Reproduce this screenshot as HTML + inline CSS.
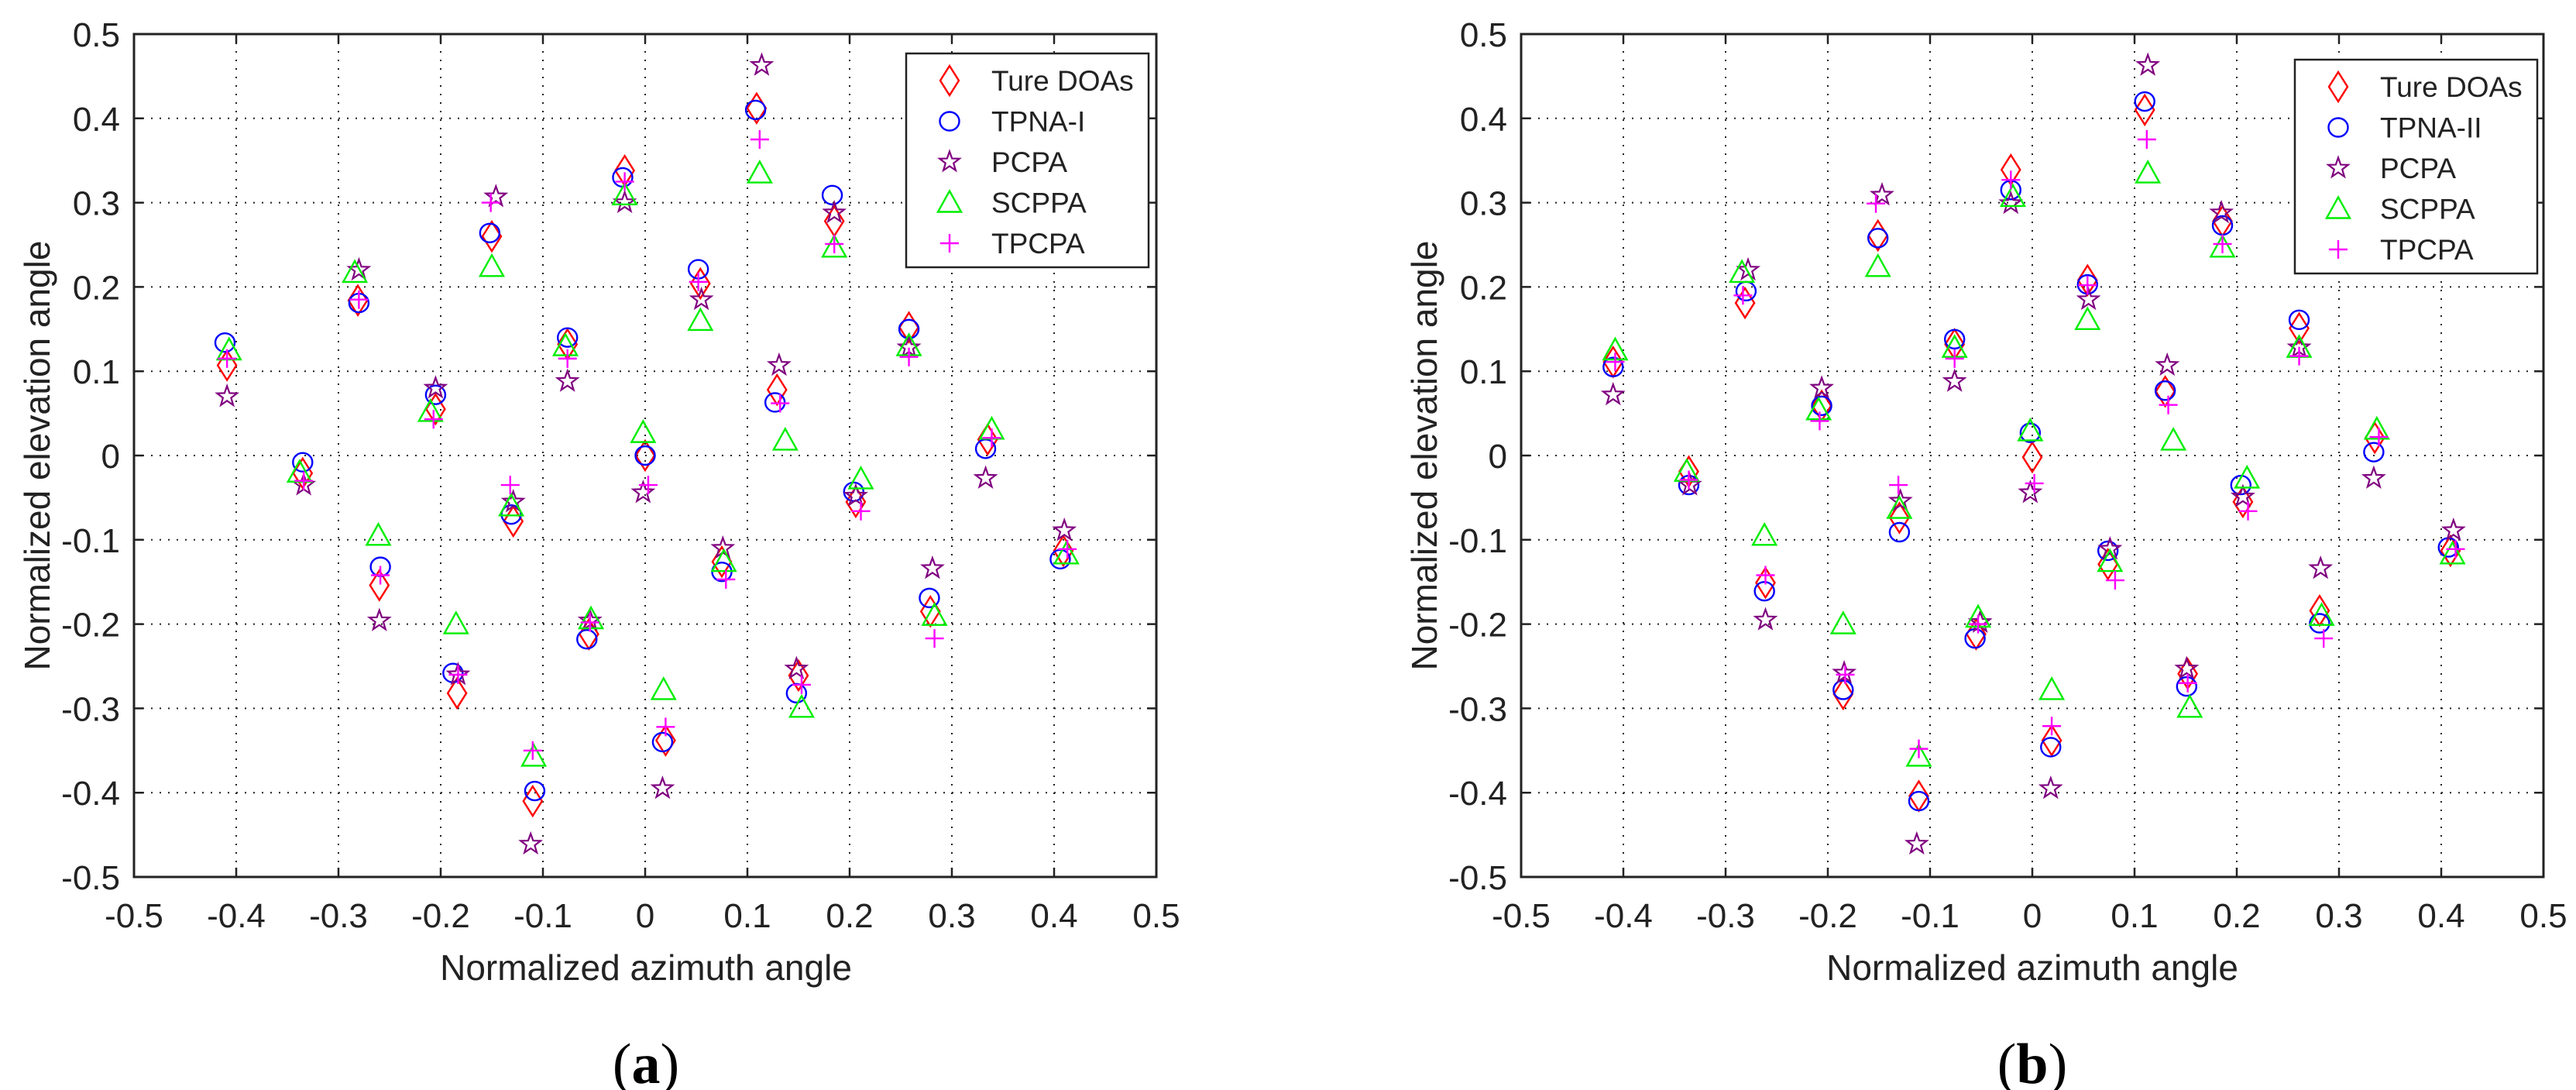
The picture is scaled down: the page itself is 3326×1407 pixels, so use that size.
<!DOCTYPE html>
<html><head><meta charset="utf-8"><style>
html,body{margin:0;padding:0;background:#fff;}
svg{display:block;font-family:"Liberation Sans",Arial,sans-serif;}
</style></head><body>
<svg id="fig" width="3326" height="1407" viewBox="0 0 3326 1407"></svg>
<script>
// ---- data: 25 sources, values [x, y] ----
const tureA = [[-0.409,0.107],[-0.335,-0.021],[-0.281,0.184],[-0.26,-0.154],[-0.205,0.055],[-0.184,-0.282],[-0.15,0.26],[-0.129,-0.078],[-0.11,-0.41],[-0.076,0.132],[-0.055,-0.212],[-0.02,0.338],[0,0],[0.02,-0.338],[0.054,0.204],[0.075,-0.126],[0.109,0.412],[0.129,0.078],[0.15,-0.261],[0.185,0.278],[0.206,-0.055],[0.258,0.152],[0.279,-0.185],[0.335,0.019],[0.409,-0.113]];
const tpnaA = [[-0.411,0.134],[-0.335,-0.008],[-0.28,0.181],[-0.259,-0.132],[-0.205,0.072],[-0.188,-0.258],[-0.152,0.264],[-0.131,-0.07],[-0.108,-0.398],[-0.076,0.14],[-0.057,-0.218],[-0.022,0.33],[0,0],[0.017,-0.34],[0.052,0.221],[0.075,-0.138],[0.108,0.41],[0.127,0.063],[0.148,-0.282],[0.183,0.309],[0.204,-0.043],[0.258,0.15],[0.278,-0.169],[0.333,0.008],[0.406,-0.123]];
const pcpaA = [[-0.409,0.07],[-0.334,-0.035],[-0.28,0.22],[-0.26,-0.196],[-0.205,0.08],[-0.183,-0.26],[-0.146,0.307],[-0.129,-0.055],[-0.112,-0.461],[-0.076,0.088],[-0.054,-0.196],[-0.02,0.3],[-0.002,-0.044],[0.017,-0.395],[0.055,0.185],[0.076,-0.11],[0.114,0.463],[0.131,0.107],[0.148,-0.253],[0.185,0.288],[0.206,-0.048],[0.258,0.128],[0.281,-0.134],[0.333,-0.027],[0.41,-0.089]];
const scppaA = [[-0.407,0.125],[-0.338,-0.02],[-0.284,0.217],[-0.261,-0.095],[-0.21,0.052],[-0.185,-0.2],[-0.15,0.224],[-0.131,-0.06],[-0.109,-0.357],[-0.078,0.13],[-0.053,-0.194],[-0.02,0.309],[-0.002,0.027],[0.018,-0.278],[0.054,0.16],[0.077,-0.126],[0.112,0.335],[0.137,0.018],[0.153,-0.299],[0.185,0.247],[0.211,-0.028],[0.258,0.13],[0.283,-0.19],[0.339,0.031],[0.412,-0.117]];
const tpcpaA = [[-0.409,0.115],[-0.334,-0.03],[-0.28,0.185],[-0.259,-0.142],[-0.207,0.043],[-0.183,-0.26],[-0.151,0.3],[-0.132,-0.035],[-0.11,-0.35],[-0.076,0.115],[-0.054,-0.198],[-0.02,0.325],[0.003,-0.035],[0.02,-0.322],[0.052,0.206],[0.079,-0.147],[0.112,0.375],[0.132,0.062],[0.153,-0.272],[0.185,0.251],[0.211,-0.066],[0.258,0.117],[0.283,-0.217],[0.339,0.021],[0.413,-0.111]];

const tureB = [[-0.41,0.111],[-0.336,-0.019],[-0.281,0.181],[-0.261,-0.151],[-0.206,0.059],[-0.185,-0.283],[-0.151,0.261],[-0.13,-0.074],[-0.111,-0.404],[-0.076,0.132],[-0.055,-0.212],[-0.021,0.339],[0,-0.002],[0.019,-0.338],[0.054,0.208],[0.074,-0.129],[0.11,0.41],[0.13,0.076],[0.152,-0.259],[0.186,0.278],[0.206,-0.055],[0.261,0.151],[0.281,-0.184],[0.335,0.021],[0.409,-0.113]];
const tpnaB = [[-0.41,0.105],[-0.336,-0.035],[-0.28,0.195],[-0.262,-0.161],[-0.206,0.059],[-0.185,-0.278],[-0.151,0.258],[-0.13,-0.091],[-0.111,-0.41],[-0.076,0.138],[-0.056,-0.217],[-0.021,0.315],[-0.002,0.027],[0.018,-0.346],[0.054,0.203],[0.074,-0.113],[0.11,0.42],[0.13,0.077],[0.151,-0.274],[0.186,0.273],[0.204,-0.035],[0.261,0.161],[0.281,-0.199],[0.334,0.004],[0.407,-0.109]];
const pcpaB = [[-0.41,0.072],[-0.335,-0.035],[-0.278,0.22],[-0.261,-0.195],[-0.206,0.08],[-0.184,-0.258],[-0.147,0.309],[-0.129,-0.054],[-0.113,-0.461],[-0.076,0.088],[-0.051,-0.198],[-0.021,0.299],[-0.002,-0.044],[0.018,-0.395],[0.055,0.185],[0.076,-0.111],[0.113,0.463],[0.132,0.107],[0.151,-0.253],[0.185,0.288],[0.206,-0.049],[0.261,0.128],[0.282,-0.134],[0.334,-0.027],[0.412,-0.089]];
const scppaB = [[-0.408,0.125],[-0.338,-0.019],[-0.284,0.217],[-0.262,-0.095],[-0.209,0.054],[-0.185,-0.2],[-0.151,0.224],[-0.13,-0.063],[-0.111,-0.357],[-0.076,0.128],[-0.053,-0.192],[-0.019,0.307],[-0.002,0.029],[0.019,-0.278],[0.054,0.161],[0.076,-0.126],[0.113,0.335],[0.138,0.018],[0.154,-0.299],[0.186,0.247],[0.21,-0.027],[0.261,0.128],[0.283,-0.19],[0.337,0.031],[0.411,-0.117]];
const tpcpaB = [[-0.408,0.111],[-0.336,-0.029],[-0.283,0.19],[-0.261,-0.142],[-0.208,0.041],[-0.183,-0.26],[-0.153,0.299],[-0.131,-0.035],[-0.111,-0.348],[-0.076,0.115],[-0.053,-0.2],[-0.021,0.327],[0.002,-0.033],[0.019,-0.321],[0.054,0.202],[0.081,-0.148],[0.112,0.375],[0.133,0.06],[0.152,-0.27],[0.186,0.251],[0.211,-0.066],[0.261,0.118],[0.285,-0.217],[0.339,0.022],[0.414,-0.111]];

const ticks = [-0.5,-0.4,-0.3,-0.2,-0.1,0,0.1,0.2,0.3,0.4,0.5];
const tickLabels = ["-0.5","-0.4","-0.3","-0.2","-0.1","0","0.1","0.2","0.3","0.4","0.5"];
const legendA = ["Ture DOAs","TPNA-I","PCPA","SCPPA","TPCPA"];
const legendB = ["Ture DOAs","TPNA-II","PCPA","SCPPA","TPCPA"];

const NS="http://www.w3.org/2000/svg";
const svg=document.getElementById('fig');
function mk(tag,attrs,parent){const e=document.createElementNS(NS,tag);for(const k in attrs)e.setAttribute(k,attrs[k]);(parent||svg).appendChild(e);return e;}

const kinds=["diamond","circle","star","triangle","plus"];
const colors=["#ff0000","#0000ff","#800080","#00ee00","#ff00ff"];
const kindNames=["ture-doa-marker","tpna-marker","pcpa-marker","scppa-marker","tpcpa-marker"];

function marker(g,kind,cx,cy,color){
  let e;
  if(kind==="diamond"){e=mk('polygon',{points:`${cx},${cy-19} ${cx+12},${cy} ${cx},${cy+19} ${cx-12},${cy}`,fill:'none',stroke:color,'stroke-width':2.4},g);}
  else if(kind==="circle"){e=mk('ellipse',{cx:cx,cy:cy,rx:12.5,ry:12,fill:'none',stroke:color,'stroke-width':2.4},g);}
  else if(kind==="triangle"){e=mk('polygon',{points:`${cx},${cy-15} ${cx+15},${cy+12} ${cx-15},${cy+12}`,fill:'none',stroke:color,'stroke-width':2.4},g);}
  else if(kind==="plus"){e=mk('path',{d:`M${cx-12},${cy}H${cx+12}M${cx},${cy-12}V${cy+12}`,stroke:color,'stroke-width':2.4,fill:'none'},g);}
  else {let p=[];for(let i=0;i<10;i++){const r=i%2?5.5:13.5;const a=-Math.PI/2+i*Math.PI/5;p.push((cx+r*Math.cos(a)).toFixed(1)+','+(cy+r*Math.sin(a)).toFixed(1));}
    e=mk('polygon',{points:p.join(' '),fill:'none',stroke:color,'stroke-width':2.2},g);}
  return e;
}

function plot(id,L,series,legend,leg,ylabX,xlabX,caption){
  const T=44,B=1132,R=L+1320;
  const sx=v=>L+(v+0.5)*(R-L);
  const sy=v=>B-(v+0.5)*(B-T);
  const g=mk('g',{});
  
  
  ticks.forEach((t,i)=>{
    if(i>0&&i<ticks.length-1){
      const gv=mk('line',{x1:sx(t),x2:sx(t),y1:T,y2:B,stroke:'#222','stroke-width':2,'stroke-dasharray':'2 9'},g);
      
      
      const gh=mk('line',{x1:L,x2:R,y1:sy(t),y2:sy(t),stroke:'#222','stroke-width':2,'stroke-dasharray':'2 9'},g);
      
      
      mk('path',{d:`M${sx(t)},${B}v-12M${sx(t)},${T}v12M${L},${sy(t)}h12M${R},${sy(t)}h-12`,stroke:'#222','stroke-width':2.5},g);
    }
    const xt=mk('text',{x:sx(t),y:1197,'font-size':44,'text-anchor':'middle',fill:'#222'},g);
    xt.textContent=tickLabels[i];
    
    
    const yt=mk('text',{x:L-18,y:sy(t)+16,'font-size':44,'text-anchor':'end',fill:'#222'},g);
    yt.textContent=tickLabels[i];
    
    
  });
  const fr=mk('rect',{x:L,y:T,width:R-L,height:B-T,fill:'none',stroke:'#222','stroke-width':3},g);
  
  
  series.forEach((s,k)=>{
    s.forEach(p=>{
      const m=marker(g,kinds[k],sx(p[0]),sy(p[1]),colors[k]);
      
      
    });
  });
  const lg=mk('g',{},g);
  
  
  const lb=mk('rect',{x:leg.x,y:leg.y,width:313,height:276,fill:'#fff',stroke:'#222','stroke-width':2.5},lg);
  
  
  legend.forEach((name,k)=>{
    const cy=leg.y+35+k*52.5;
    const m=marker(lg,kinds[k],leg.x+56,cy,colors[k]);
    
    
    const t=mk('text',{x:leg.x+110,y:cy+13,'font-size':37,fill:'#222'},lg);
    t.textContent=name;
    
    
  });
  const yl=mk('text',{x:ylabX,y:588,'font-size':46,'text-anchor':'middle',fill:'#222',transform:`rotate(-90 ${ylabX} 588)`},g);
  yl.textContent='Normalized elevation angle';
  
  
  const xl=mk('text',{x:xlabX,y:1265,'font-size':46,'text-anchor':'middle',fill:'#222'},g);
  xl.textContent='Normalized azimuth angle';
  
  
  const cap=mk('text',{x:xlabX,y:1398,'font-size':74,'text-anchor':'middle',fill:'#000','font-family':'"Liberation Serif",serif'},g);
  cap.innerHTML='(<tspan font-weight="bold">'+caption+'</tspan>)';
  
  
}

plot('panel-a',173,[tureA,tpnaA,pcpaA,scppaA,tpcpaA],legendA,{x:1170,y:69},64,834,'a');
plot('panel-b',1964,[tureB,tpnaB,pcpaB,scppaB,tpcpaB],legendB,{x:2963,y:77},1855,2624,'b');
</script>
</body></html>
